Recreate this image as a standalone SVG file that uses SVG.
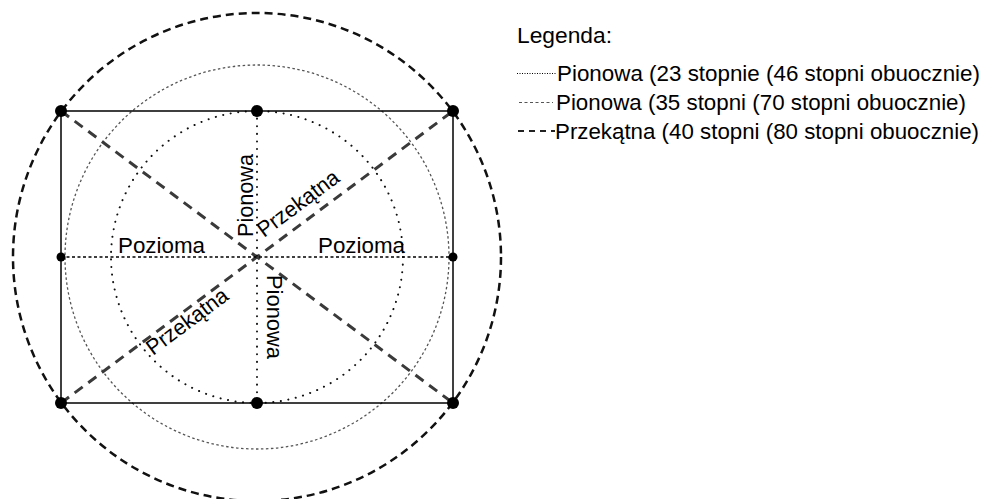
<svg xmlns="http://www.w3.org/2000/svg" width="981" height="499" viewBox="0 0 981 499">
  <style>
    text { font-family: "Liberation Sans", Arial, sans-serif; fill: #000; }
    .lbl { font-size: 22px; }
    .leg { font-size: 22px; }
    .frame { fill: none; stroke: #000; stroke-width: 1.5; }
    .outer { fill: none; stroke: #111; stroke-width: 2.5; stroke-dasharray: 8 5; }
    .mid { fill: none; stroke: #555; stroke-width: 1.3; stroke-dasharray: 2.5 2.5; }
    .inner { fill: none; stroke: #111; stroke-width: 2; stroke-dasharray: 0.1 7.5; stroke-linecap: round; }
    .diag { fill: none; stroke: #3a3a3a; stroke-width: 3; stroke-dasharray: 10 7; }
    .horiz { fill: none; stroke: #000; stroke-width: 1.3; stroke-dasharray: 3 2.5; }
    .vert { fill: none; stroke: #111; stroke-width: 2; stroke-dasharray: 0.1 7.5; stroke-linecap: round; }
    .dot { fill: #000; }
  </style>

  <!-- field-of-view circles -->
  <g id="circles">
    <circle class="outer" cx="257" cy="257" r="244"/>
    <circle class="mid" cx="257" cy="257" r="192"/>
    <circle class="inner" cx="257" cy="257" r="146"/>
  </g>

  <!-- frame -->
  <g id="frame">
    <rect class="frame" x="61" y="111" width="392" height="292"/>
  </g>

  <!-- axis lines -->
  <g id="connectors">
    <line class="diag" x1="61" y1="111" x2="453" y2="403"/>
    <line class="diag" x1="61" y1="403" x2="453" y2="111"/>
    <line class="horiz" x1="61" y1="257" x2="453" y2="257"/>
    <line class="vert" x1="257" y1="111" x2="257" y2="403"/>
  </g>

  <!-- anchor points -->
  <g id="points">
    <circle class="dot" cx="61" cy="111" r="6"/>
    <circle class="dot" cx="257" cy="111" r="6"/>
    <circle class="dot" cx="453" cy="111" r="6"/>
    <circle class="dot" cx="61" cy="257" r="4.5"/>
    <circle class="dot" cx="453" cy="257" r="4.5"/>
    <circle class="dot" cx="61" cy="403" r="6"/>
    <circle class="dot" cx="257" cy="403" r="6"/>
    <circle class="dot" cx="453" cy="403" r="6"/>
  </g>

  <!-- axis labels -->
  <g id="labels">
    <text class="lbl" x="118" y="253" textLength="87" lengthAdjust="spacingAndGlyphs">Pozioma</text>
    <text class="lbl" x="318" y="253" textLength="87" lengthAdjust="spacingAndGlyphs">Pozioma</text>
    <text class="lbl" transform="translate(253 237) rotate(-90)" textLength="83" lengthAdjust="spacingAndGlyphs">Pionowa</text>
    <text class="lbl" transform="translate(267 275) rotate(90)" textLength="84" lengthAdjust="spacingAndGlyphs">Pionowa</text>
    <text class="lbl" transform="translate(264 238) rotate(-36.7)" textLength="96" lengthAdjust="spacingAndGlyphs">Przekątna</text>
    <text class="lbl" transform="translate(153 356) rotate(-36.7)" textLength="96" lengthAdjust="spacingAndGlyphs">Przekątna</text>
  </g>

  <!-- legend -->
  <g id="legend">
    <text class="leg" x="517" y="43" textLength="95" lengthAdjust="spacingAndGlyphs">Legenda:</text>
    <line x1="517" y1="73.5" x2="556" y2="73.5" stroke="#000" stroke-width="1.2" stroke-dasharray="1 1.5"/>
    <text class="leg" x="557" y="81" textLength="423" lengthAdjust="spacingAndGlyphs">Pionowa (23 stopnie (46 stopni obuocznie)</text>
    <line x1="519" y1="102.5" x2="553" y2="102.5" stroke="#555" stroke-width="1.1" stroke-dasharray="3 2.5"/>
    <text class="leg" x="556" y="110" textLength="410" lengthAdjust="spacingAndGlyphs">Pionowa (35 stopni (70 stopni obuocznie)</text>
    <line x1="518" y1="131" x2="555" y2="131" stroke="#222" stroke-width="2" stroke-dasharray="6 5"/>
    <text class="leg" x="555" y="139" textLength="424" lengthAdjust="spacingAndGlyphs">Przekątna (40 stopni (80 stopni obuocznie)</text>
  </g>
</svg>
